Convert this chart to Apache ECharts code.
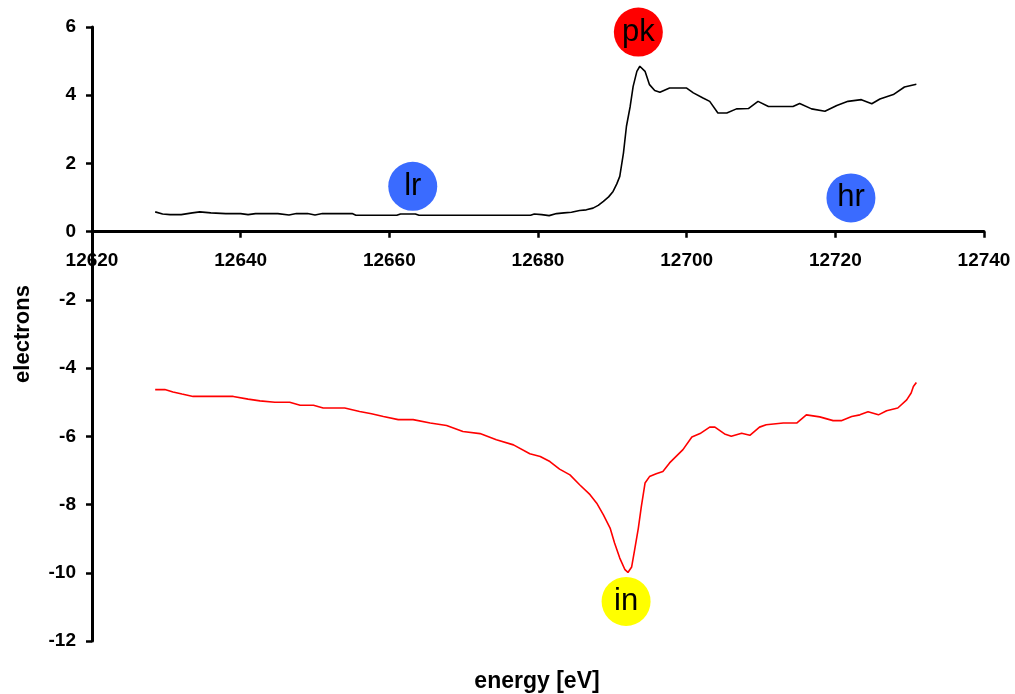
<!DOCTYPE html>
<html>
<head>
<meta charset="utf-8">
<script src="https://cdn.jsdelivr.net/npm/echarts@6/dist/echarts.min.js"></script>
<style>
  html, body { margin: 0; padding: 0; background: #fff; }
  #chart { width: 1015px; height: 694px; }
</style>
</head>
<body>
<div id="chart"></div>
<script>
// Edge spectrum (black) and its derivative (red), electrons vs. energy
const edgeEnergy = [12628.5, 12629.5, 12630.5, 12632, 12633.5, 12634.5, 12636, 12638, 12640, 12641,
  12642, 12645, 12646.5, 12647.5, 12649, 12650, 12651, 12655, 12655.5, 12661,
  12661.5, 12663.5, 12664, 12679, 12679.5, 12680.5, 12681.5, 12682.5, 12683.5, 12684.5,
  12685.6, 12686.5, 12687.4, 12688.1, 12688.8, 12689.5, 12690.1, 12690.6, 12691.0, 12691.5,
  12691.9, 12692.4, 12692.8, 12693.3, 12693.7, 12694.4, 12695.0, 12695.7, 12696.4, 12697.7,
  12700.0, 12700.9, 12702.2, 12703.1, 12704.2, 12705.4, 12706.7, 12708.3, 12709.6, 12711.0,
  12712.5, 12714.3, 12715.2, 12716.8, 12718.6, 12720.2, 12721.7, 12723.5, 12724.9, 12726.0,
  12727.8, 12729.3, 12730.9];
const edgeValue = [0.58, 0.52, 0.50, 0.50, 0.55, 0.58, 0.55, 0.53, 0.53, 0.50,
  0.53, 0.53, 0.49, 0.53, 0.53, 0.49, 0.53, 0.53, 0.48, 0.48,
  0.52, 0.52, 0.48, 0.48, 0.52, 0.50, 0.47, 0.53, 0.55, 0.57,
  0.62, 0.64, 0.69, 0.77, 0.89, 1.02, 1.18, 1.40, 1.62, 2.31,
  3.09, 3.67, 4.26, 4.70, 4.85, 4.70, 4.31, 4.14, 4.09, 4.21,
  4.21, 4.07, 3.92, 3.82, 3.48, 3.48, 3.60, 3.61, 3.82, 3.67,
  3.67, 3.67, 3.76, 3.60, 3.53, 3.70, 3.82, 3.87, 3.75, 3.89,
  4.02, 4.24, 4.32];

const derivEnergy = [12628.5, 12629.8, 12630.9, 12632.1, 12633.6, 12639.0, 12641.0, 12642.6, 12644.6, 12646.6,
  12648.0, 12649.8, 12651.1, 12654.0, 12656.0, 12657.6, 12659.2, 12661.2, 12663.2, 12665.5,
  12667.7, 12669.9, 12672.2, 12674.4, 12676.7, 12678.9, 12680.3, 12681.6, 12682.9, 12684.3,
  12685.6, 12687.0, 12687.9, 12688.8, 12689.7, 12690.3, 12691.0, 12691.7, 12692.1, 12692.6,
  12693.0, 12693.5, 12693.9, 12694.4, 12695.0, 12695.9, 12696.8, 12697.7, 12699.5, 12700.7,
  12701.8, 12703.1, 12703.8, 12705.1, 12706.0, 12707.4, 12708.5, 12709.8, 12710.7, 12713.0,
  12714.8, 12716.1, 12717.9, 12719.7, 12720.8, 12722.2, 12723.3, 12724.4, 12725.8, 12726.9,
  12728.4, 12729.6, 12730.2, 12730.5, 12730.9];
const derivValue = [-4.63, -4.63, -4.70, -4.76, -4.83, -4.83, -4.91, -4.96, -5.00, -5.00,
  -5.09, -5.09, -5.17, -5.17, -5.27, -5.34, -5.42, -5.51, -5.51, -5.61,
  -5.68, -5.86, -5.92, -6.10, -6.25, -6.51, -6.59, -6.74, -6.96, -7.13,
  -7.42, -7.71, -7.96, -8.30, -8.69, -9.13, -9.57, -9.91, -9.99, -9.83,
  -9.33, -8.69, -8.06, -7.37, -7.18, -7.10, -7.03, -6.78, -6.39, -6.02,
  -5.92, -5.73, -5.73, -5.93, -6.00, -5.91, -5.97, -5.73, -5.66, -5.61,
  -5.61, -5.37, -5.43, -5.54, -5.54, -5.42, -5.37, -5.28, -5.37, -5.25,
  -5.17, -4.93, -4.73, -4.54, -4.42];

// Labelled markers: low range, peak, high range, inflection
const markerNames = ['lr', 'pk', 'hr', 'in'];
const markerEnergy = [12663.15, 12693.5, 12722.1, 12691.85];
const markerValue = [1.33, 5.85, 0.99, -10.84];
const markerColors = ['#3a6bff', '#ff0000', '#3a6bff', '#ffff00'];

// Axis settings
const xMin = 12620, xMax = 12740, xStep = 20;
const yMin = -12, yMax = 6, yStep = 2;
const xTitle = 'energy [eV]';
const yTitle = 'electrons';

const FONT = '"Liberation Sans", Arial, Helvetica, sans-serif';
const zip = (xs, ys) => xs.map((x, i) => [x, ys[i]]);

const W = 1015, H = 694;
const GRID = { left: 92, right: 31, top: 27, bottom: 53 };
// Lift the energy axis from the bottom edge of the grid up to the y = 0 line
const plotH = H - GRID.top - GRID.bottom;
const zeroOffset = -plotH * (0 - yMin) / (yMax - yMin);

const chart = echarts.init(document.getElementById('chart'), null, { renderer: 'canvas' });

chart.setOption({
  animation: false,
  backgroundColor: '#ffffff',
  grid: Object.assign({ containLabel: false }, GRID),
  xAxis: {
    type: 'value', min: xMin, max: xMax, interval: xStep,
    position: 'bottom', offset: zeroOffset, z: 1,
    axisLine: { show: true, onZero: false, lineStyle: { color: '#000', width: 3 } },
    axisTick: { show: true, length: 6, lineStyle: { color: '#000', width: 2.5 } },
    axisLabel: {
      color: '#000', fontFamily: FONT, fontWeight: 'bold', fontSize: 19, margin: 20,
      formatter: v => String(v)
    },
    splitLine: { show: false }
  },
  yAxis: {
    type: 'value', min: yMin, max: yMax, interval: yStep, z: 2,
    axisLine: { show: true, lineStyle: { color: '#000', width: 3 } },
    axisTick: { show: true, length: 6, lineStyle: { color: '#000', width: 2.5 } },
    axisLabel: { color: '#000', fontFamily: FONT, fontWeight: 'bold', fontSize: 19, margin: 16 },
    splitLine: { show: false },
    name: yTitle, nameLocation: 'middle', nameGap: 58, nameRotate: 90,
    nameTextStyle: { color: '#000', fontFamily: FONT, fontWeight: 'bold', fontSize: 22 }
  },
  graphic: [{
    type: 'text', x: 537, y: 682, z: 10,
    style: {
      text: xTitle, fill: '#000', align: 'center', verticalAlign: 'middle',
      font: 'bold 23px ' + FONT
    }
  }],
  series: [
    {
      type: 'line', data: zip(edgeEnergy, edgeValue),
      showSymbol: false, lineStyle: { color: '#000', width: 1.6 }, z: 3
    },
    {
      type: 'line', data: zip(derivEnergy, derivValue),
      showSymbol: false, lineStyle: { color: '#ff0000', width: 1.6 }, z: 3
    },
    {
      type: 'scatter', symbol: 'circle', symbolSize: 49, z: 5,
      data: markerNames.map((n, i) => ({
        name: n,
        value: [markerEnergy[i], markerValue[i]],
        itemStyle: { color: markerColors[i], opacity: 1 }
      })),
      label: {
        show: true, position: 'inside', formatter: p => p.name,
        color: '#000', fontFamily: FONT, fontSize: 31
      },
      emphasis: { disabled: true }
    }
  ]
});
</script>
</body>
</html>
